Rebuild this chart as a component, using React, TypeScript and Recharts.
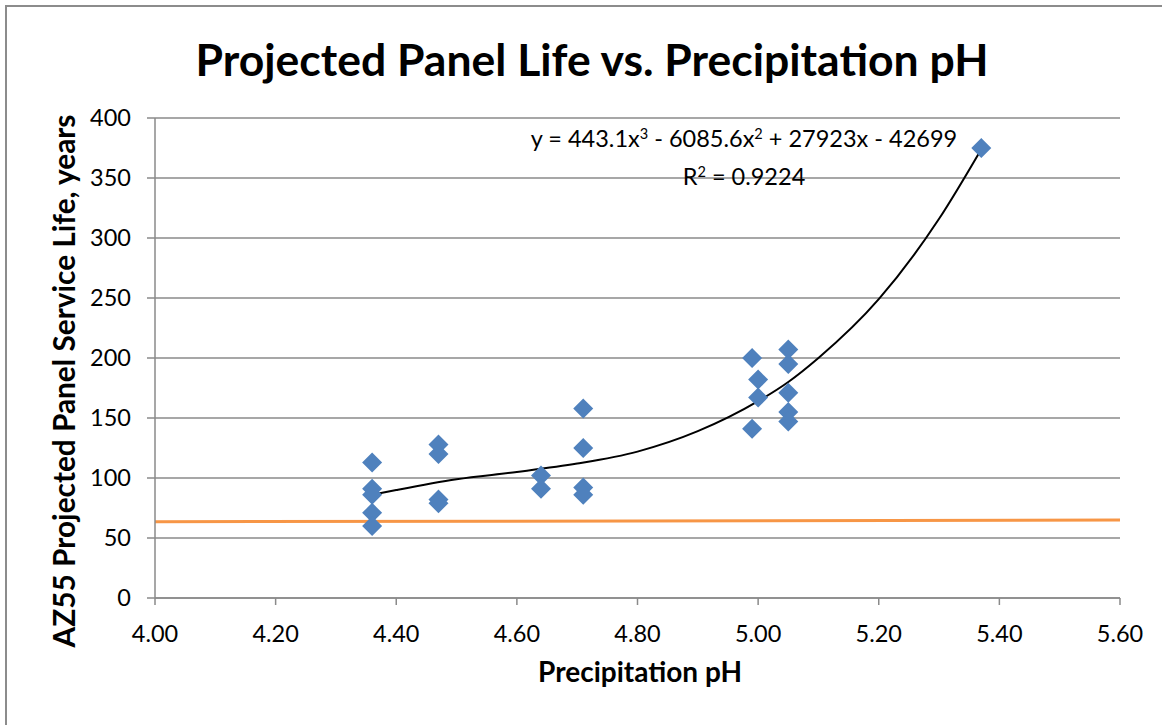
import {
  ComposedChart,
  Scatter,
  Line,
  XAxis,
  YAxis,
  CartesianGrid,
} from "recharts";

// measured life per sample (pH, years)
const samplePh = [
  4.36, 4.36, 4.36, 4.36, 4.36,
  4.47, 4.47, 4.47, 4.47,
  4.64, 4.64,
  4.71, 4.71, 4.71, 4.71,
  4.99, 4.99, 5.0, 5.0,
  5.05, 5.05, 5.05, 5.05, 5.05,
  5.37,
];
const sampleLife = [
  113, 91, 86, 71, 60,
  128, 120, 82, 79,
  102, 91,
  158, 125, 92, 86,
  200, 141, 182, 167,
  207, 195, 171, 155, 147,
  375,
];

// cubic trendline
const trendPh = [4.36, 4.4, 4.5, 4.6, 4.7, 4.8, 4.9, 5.0, 5.05, 5.1, 5.2, 5.3, 5.37];
const trendLife = [86, 90, 99, 105, 112, 122, 139, 164, 180, 200, 249, 316, 374];

// orange reference line
const refPh = [4.0, 5.6];
const refLife = [63.5, 65];

const xTicks = [4.0, 4.2, 4.4, 4.6, 4.8, 5.0, 5.2, 5.4, 5.6];
const yTicks = [0, 50, 100, 150, 200, 250, 300, 350, 400];

const FONT = "Lato, 'Noto Sans', sans-serif";
const GRID = "#8a8a8a";

const samples = samplePh.map((x, i) => ({ x, y: sampleLife[i] }));
const trend = trendPh.map((x, i) => ({ x, y: trendLife[i] }));
const ref = refPh.map((x, i) => ({ x, y: refLife[i] }));

function Diamond(props: any) {
  const { cx, cy } = props;
  if (cx == null || cy == null) return null;
  const r = 10;
  return (
    <polygon
      points={`${cx},${cy - r} ${cx + r},${cy} ${cx},${cy + r} ${cx - r},${cy}`}
      fill="#4F81BD"
    />
  );
}

const sup = { fontSize: "0.62em", position: "relative" as const, top: "-0.55em" };

export default function App() {
  return (
    <div
      style={{
        position: "absolute",
        left: 0,
        top: 0,
        width: 1162,
        height: 725,
        overflow: "hidden",
        background: "#fff",
        fontFamily: FONT,
      }}
    >
      {/* chart frame, runs off the right and bottom */}
      <div
        style={{
          position: "absolute",
          left: 5,
          top: 5,
          width: 1200,
          height: 800,
          border: "2px solid #8c8c8c",
        }}
      />

      <div
        style={{
          position: "absolute",
          left: 0,
          top: 32,
          width: 1184,
          textAlign: "center",
          fontSize: 44.5,
          fontWeight: 700,
        }}
      >
        Projected Panel Life vs. Precipitation pH
      </div>

      <ComposedChart
        width={1162}
        height={725}
        margin={{ top: 118, right: 42, bottom: 0, left: 0 }}
        style={{ position: "absolute", left: 0, top: 0 }}
      >
        <CartesianGrid vertical={false} stroke={GRID} strokeWidth={1.5} />
        <XAxis
          type="number"
          dataKey="x"
          domain={[4, 5.6]}
          ticks={xTicks}
          tickFormatter={(v: number) => v.toFixed(2)}
          height={127}
          stroke={GRID}
          strokeWidth={1.5}
          tickSize={7}
          tickMargin={20}
          tick={{ fill: "#000", fontSize: 23.5, fontFamily: FONT }}
          allowDataOverflow
        />
        <YAxis
          type="number"
          dataKey="y"
          domain={[0, 400]}
          ticks={yTicks}
          width={155}
          stroke={GRID}
          strokeWidth={1.5}
          tickSize={8}
          tickMargin={16}
          tick={{ fill: "#000", fontSize: 23.5, fontFamily: FONT }}
          allowDataOverflow
        />
        <Scatter
          data={samples}
          dataKey="y"
          shape={<Diamond />}
          isAnimationActive={false}
        />
        <Line
          data={ref}
          dataKey="y"
          type="linear"
          stroke="#F79646"
          strokeWidth={3}
          dot={false}
          activeDot={false}
          isAnimationActive={false}
        />
        <Line
          data={trend}
          dataKey="y"
          type="monotone"
          stroke="#000"
          strokeWidth={2}
          dot={false}
          activeDot={false}
          isAnimationActive={false}
        />
      </ComposedChart>

      {/* trendline equation */}
      <div
        style={{
          position: "absolute",
          left: 444,
          top: 121,
          width: 600,
          textAlign: "center",
          fontSize: 23.5,
          lineHeight: "34px",
        }}
      >
        <div>
          y = 443.1x<span style={sup}>3</span> - 6085.6x<span style={sup}>2</span> + 27923x - 42699
        </div>
        <div>
          R<span style={sup}>2</span> = 0.9224
        </div>
      </div>

      <div
        style={{
          position: "absolute",
          left: 440,
          top: 654,
          width: 400,
          textAlign: "center",
          fontSize: 28,
          fontWeight: 700,
        }}
      >
        Precipitation pH
      </div>

      <div
        style={{
          position: "absolute",
          left: 64,
          top: 381,
          width: 0,
          height: 0,
        }}
      >
        <div
          style={{
            position: "absolute",
            left: -350,
            top: -18,
            width: 700,
            textAlign: "center",
            fontSize: 29.8,
            fontWeight: 700,
            lineHeight: "36px",
            transform: "rotate(-90deg)",
            whiteSpace: "nowrap",
          }}
        >
          AZ55 Projected Panel Service Life, years
        </div>
      </div>
    </div>
  );
}
